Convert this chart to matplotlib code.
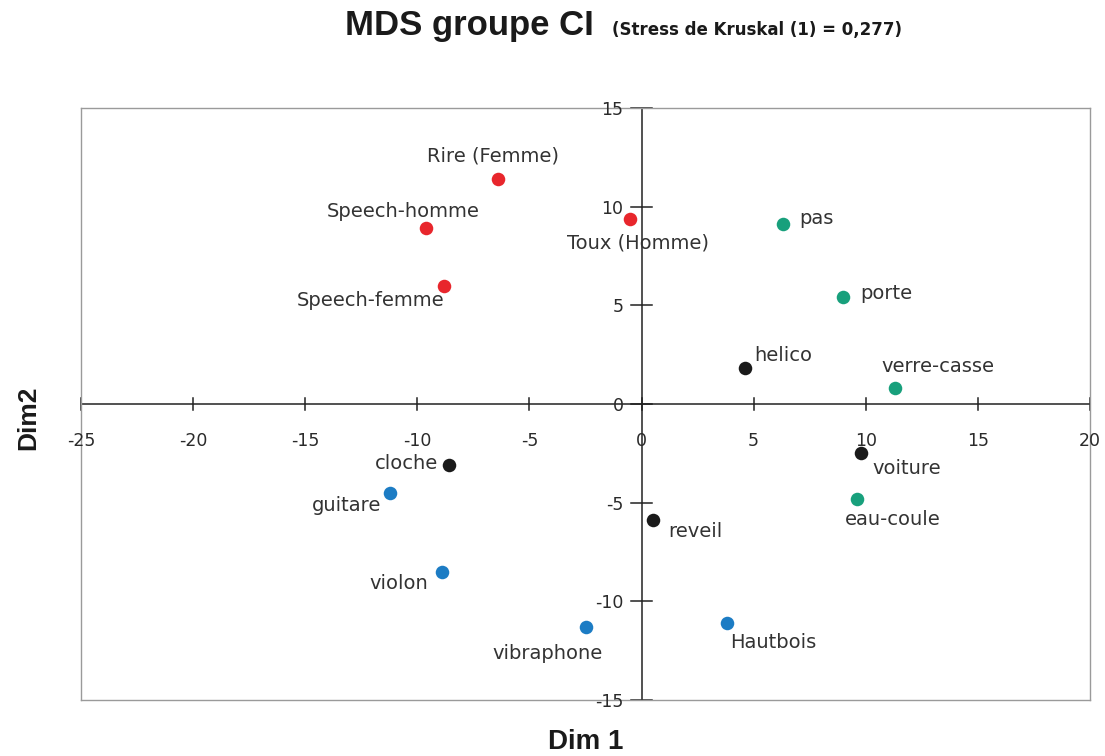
import matplotlib
matplotlib.use("Agg")
import matplotlib.pyplot as plt

# MDS coordinates (Dim 1, Dim 2) for each sound stimulus
labels = ["Rire (Femme)", "Speech-homme", "Toux (Homme)", "Speech-femme",
          "pas", "porte", "helico", "verre-casse",
          "cloche", "voiture", "guitare", "eau-coule",
          "reveil", "violon", "Hautbois", "vibraphone"]
dim1 = [-6.4, -9.6, -0.5, -8.8,
        6.3, 9.0, 4.6, 11.3,
        -8.6, 9.8, -11.2, 9.6,
        0.5, -8.9, 3.8, -2.5]
dim2 = [11.4, 8.9, 9.4, 6.0,
        9.1, 5.4, 1.8, 0.8,
        -3.1, -2.5, -4.5, -4.8,
        -5.9, -8.5, -11.1, -11.3]
groups = ["voix", "voix", "voix", "voix",
          "env", "env", "meca", "env",
          "meca", "meca", "instr", "env",
          "meca", "instr", "instr", "instr"]

group_colors = {"voix": "#e8262c", "env": "#18a07c",
                "meca": "#1a1a1a", "instr": "#1c7cc4"}

# label placement: (dx, dy) in pixels from the point, horizontal alignment
label_pos = {
    "Rire (Femme)": (-5, 23, "center"),
    "Speech-homme": (-23, 17, "center"),
    "Toux (Homme)": (8, -24, "center"),
    "Speech-femme": (-74, -15, "center"),
    "pas": (16, 6, "left"),
    "porte": (17, 4, "left"),
    "helico": (10, 13, "left"),
    "verre-casse": (-14, 22, "left"),
    "cloche": (-11, 2, "right"),
    "voiture": (11, -15, "left"),
    "guitare": (-9, -13, "right"),
    "eau-coule": (-12, -21, "left"),
    "reveil": (15, -11, "left"),
    "violon": (-14, -12, "right"),
    "Hautbois": (3, -19, "left"),
    "vibraphone": (17, -27, "right"),
}

xticks = [-25, -20, -15, -10, -5, 0, 5, 10, 15, 20]
yticks = [-15, -10, -5, 0, 5, 10, 15]

plt.rcParams["font.family"] = ["DejaVu Sans"]

fig = plt.figure(figsize=(11.05, 7.56), dpi=100)
ax = fig.add_axes([81 / 1105, 1 - 700 / 756, (1090 - 81) / 1105, (700 - 108) / 756])
ax.set_xlim(-25, 20)
ax.set_ylim(-15, 15)

# outer frame
for side in ["top", "bottom", "left", "right"]:
    ax.spines[side].set_color("#9a9a9a")
    ax.spines[side].set_linewidth(1.0)
ax.set_xticks([])
ax.set_yticks([])

# central axes through the origin with cross ticks
ax.axhline(0, color="#222222", lw=1.1, zorder=1)
ax.axvline(0, color="#222222", lw=1.1, zorder=1)
ty = 0.3
tx = 0.45
for xv in xticks:
    ax.plot([xv, xv], [-ty, ty], color="#222222", lw=1.1, zorder=1, clip_on=False)
    ax.text(xv, -1.85, f"{xv}", ha="center", va="center", fontsize=12.5,
            color="#2a2a2a")
for yv in yticks:
    ax.plot([-tx, tx], [yv, yv], color="#222222", lw=1.1, zorder=1, clip_on=False)
    ax.text(-0.8, yv - 0.1, f"{yv}", ha="right", va="center", fontsize=12.5,
            color="#2a2a2a")

for x, y, lab, g in zip(dim1, dim2, labels, groups):
    ax.scatter(x, y, s=95, color=group_colors[g], zorder=3, linewidths=0)
    dx, dy, ha = label_pos[lab]
    ax.annotate(lab, (x, y), xytext=(dx, dy), textcoords="offset pixels",
                ha=ha, va="center", fontsize=14, color="#333333", zorder=4)

fig.text(345 / 1105, 1 - 25 / 756, "MDS groupe CI", fontsize=25, fontweight="bold",
         family="Liberation Sans", color="#1a1a1a", ha="left", va="center")
fig.text(612 / 1105, 1 - 30 / 756, "(Stress de Kruskal (1) = 0,277)", fontsize=12,
         fontweight="bold", family="DejaVu Sans", color="#1a1a1a",
         ha="left", va="center")
fig.text(586 / 1105, 1 - 742 / 756, "Dim 1", fontsize=20, fontweight="bold",
         family="Liberation Sans", color="#1a1a1a", ha="center", va="center")
fig.text(28 / 1105, 1 - 418 / 756, "Dim2", fontsize=19, fontweight="bold",
         family="Liberation Sans", color="#1a1a1a", ha="center", va="center",
         rotation=90)

fig.savefig("out.png", dpi=100)
